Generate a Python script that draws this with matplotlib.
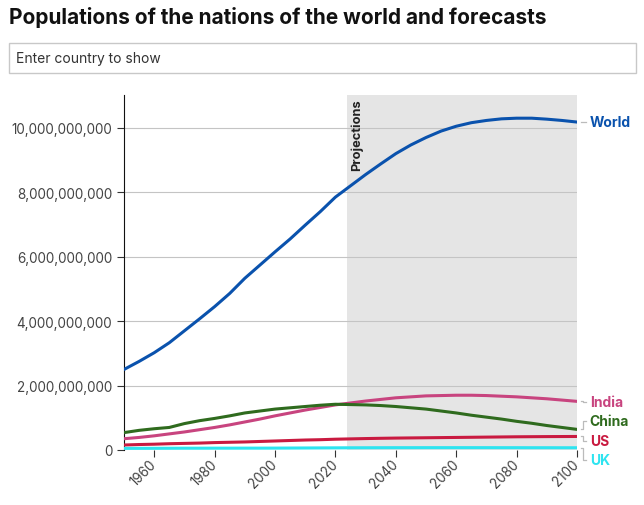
import numpy as np
import matplotlib
matplotlib.use("Agg")
import matplotlib.pyplot as plt
from matplotlib.patches import Rectangle
from matplotlib.ticker import FuncFormatter

plt.rcParams['font.family'] = ['Inter', 'DejaVu Sans']

years = list(range(1950, 2101, 5))
world = [2.50, 2.75, 3.02, 3.33, 3.70, 4.07, 4.45, 4.86, 5.33, 5.74, 6.15,
         6.55, 6.98, 7.40, 7.85, 8.20, 8.55, 8.88, 9.20, 9.47, 9.70,
         9.90, 10.05, 10.16, 10.23, 10.28, 10.30, 10.30, 10.27, 10.23, 10.18]
china = [0.54, 0.61, 0.66, 0.70, 0.82, 0.91, 0.98, 1.06, 1.15, 1.21, 1.27,
         1.31, 1.35, 1.39, 1.42, 1.41, 1.40, 1.38, 1.35, 1.31, 1.27,
         1.21, 1.15, 1.08, 1.02, 0.96, 0.89, 0.83, 0.76, 0.70, 0.64]
india = [0.35, 0.39, 0.44, 0.50, 0.56, 0.63, 0.70, 0.78, 0.87, 0.96, 1.06,
         1.15, 1.24, 1.32, 1.40, 1.46, 1.52, 1.57, 1.62, 1.65, 1.68,
         1.69, 1.70, 1.70, 1.69, 1.67, 1.65, 1.62, 1.59, 1.55, 1.51]
us = [0.155, 0.17, 0.18, 0.195, 0.205, 0.215, 0.23, 0.24, 0.25, 0.265, 0.28,
      0.295, 0.31, 0.32, 0.335, 0.345, 0.355, 0.363, 0.37, 0.375, 0.38,
      0.385, 0.39, 0.395, 0.40, 0.405, 0.41, 0.413, 0.416, 0.418, 0.42]
uk = [0.050, 0.051, 0.052, 0.054, 0.056, 0.056, 0.057, 0.057, 0.058, 0.058, 0.059,
      0.061, 0.063, 0.065, 0.067, 0.069, 0.070, 0.071, 0.072, 0.072, 0.073,
      0.073, 0.073, 0.073, 0.073, 0.072, 0.072, 0.071, 0.071, 0.070, 0.070]

names = ['World', 'India', 'China', 'US', 'UK']
series = [world, india, china, us, uk]
colors = ['#0a52ad', '#c8447f', '#2f6b1e', '#c91a40', '#2ee4f0']
label_y = [10.19, 1.49, 0.90, 0.28, -0.31]  # label positions (billions)

projection_start = 2024

fig = plt.figure(figsize=(6.44, 5.06), dpi=100)
fig.text(9 / 644, 1 - 18 / 506, "Populations of the nations of the world and forecasts",
         fontsize=15.0, fontweight='bold', va='center', ha='left', color='#111111')

# search box
box = Rectangle((9 / 644, 1 - 74 / 506), 627 / 644, 30 / 506, transform=fig.transFigure,
                facecolor='white', edgecolor='#c8c8c8', linewidth=1)
fig.add_artist(box)
fig.text(16 / 644, 1 - 59 / 506, "Enter country to show", fontsize=10,
         va='center', ha='left', color='#333333')

ax = fig.add_axes([124 / 644, 1 - 451 / 506, 453 / 644, 355 / 506])
ax.set_xlim(1950, 2100)
ax.set_ylim(0, 11.02e9)

ax.axvspan(projection_start, 2100, color='#e5e5e5', zorder=0, lw=0)
ax.text(projection_start + 1.0, 10.92e9, "Projections", rotation=90, ha='left', va='top',
        fontsize=9.3, fontweight='bold', color='#222222')

ax.set_yticks(np.arange(0, 10.1e9, 2e9))
ax.yaxis.set_major_formatter(FuncFormatter(lambda v, p: f"{int(v):,}"))
ax.grid(axis='y', color='#c4c4c4', lw=0.8)
ax.set_axisbelow(True)

ax.set_xticks(range(1960, 2101, 20))
for lab in ax.get_xticklabels():
    lab.set_rotation(45)
    lab.set_ha('right')
    lab.set_va('center')
    lab.set_rotation_mode('anchor')

ax.tick_params(axis='both', labelsize=9.7, labelcolor='#444444', color='#333333', length=5)
for s in ['top', 'right', 'bottom']:
    ax.spines[s].set_visible(False)
ax.spines['left'].set_color('#111111')

yrs = np.array(years)
for name, vals, c, ly in zip(names, series, colors, label_y):
    v = np.array(vals) * 1e9
    ax.plot(yrs, v, color=c, lw=2.2, solid_capstyle='round', solid_joinstyle='round', zorder=3)
    # connector and label
    ax.plot([1.008, 1.014, 1.014, 1.02], [v[-1], v[-1], ly * 1e9, ly * 1e9],
            transform=ax.get_yaxis_transform(), color='#bbbbbb', lw=0.9, clip_on=False)
    ax.text(1.028, ly * 1e9, name, transform=ax.get_yaxis_transform(), color=c,
            fontsize=10, fontweight='bold', va='center', ha='left')

fig.savefig("out.png", dpi=100)
